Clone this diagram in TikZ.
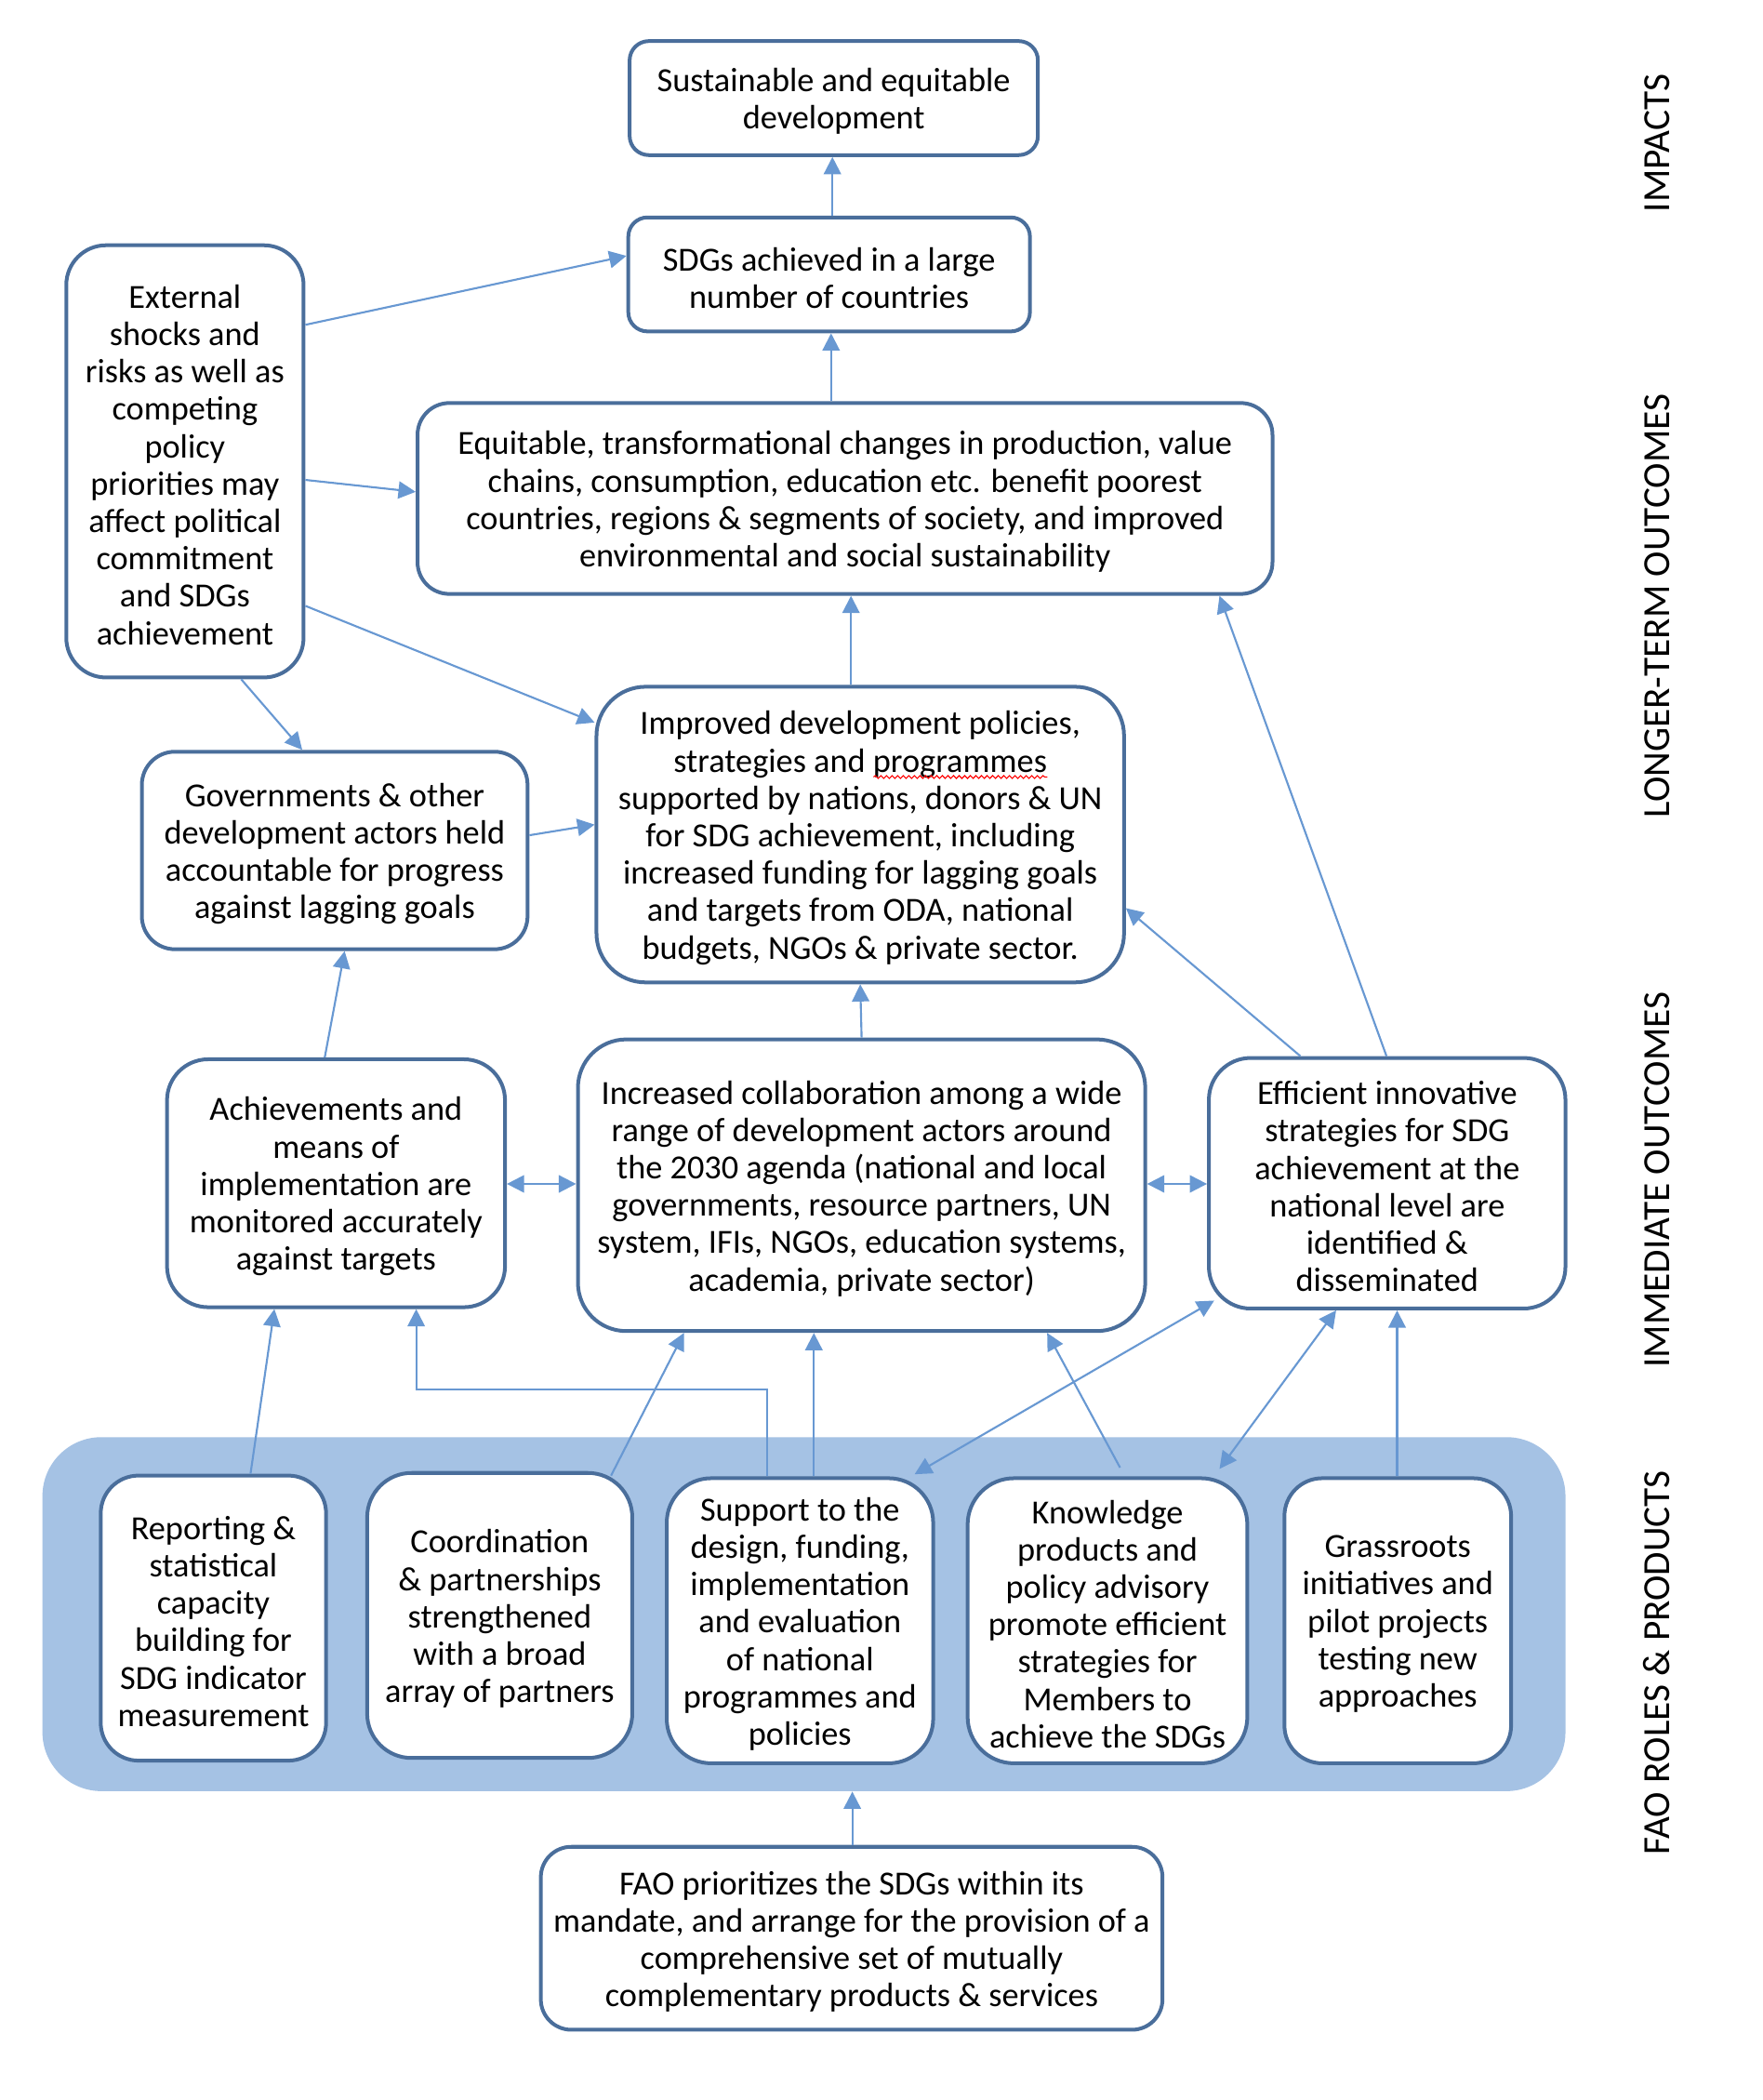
\documentclass[tikz,border=0pt]{standalone}
\usepackage{fontspec}
\setmainfont{Carlito}
\usetikzlibrary{arrows.meta,fit,decorations.pathmorphing}
\definecolor{bord}{RGB}{74,110,155}
\definecolor{conn}{RGB}{104,152,210}
\definecolor{bandc}{RGB}{165,194,228}
\newsavebox{\wavebox}
\newcommand\wavyword[1]{\sbox{\wavebox}{#1}\hbox to \wd\wavebox{\rlap{\usebox{\wavebox}}\raisebox{-3pt}[0pt][0pt]{\tikz[x=1pt,y=1pt,sharp corners]\draw[red,line width=0.45pt,sharp corners,decorate,decoration={snake,amplitude=0.6pt,segment length=2.4pt}] (0pt,0pt) -- (\wd\wavebox,0pt);}\hss}}
\begin{document}
\begin{tikzpicture}[x=0.02cm,y=-0.02cm,
  box/.style={draw=bord, line width=1.6pt, fill=white, inner sep=0pt},
  txt/.style={align=center, inner sep=0pt, yshift=-0.05cm, sharp corners,
     font=\fontsize{14.5}{16.05}\selectfont},
  arr/.style={draw=conn, line width=0.85pt, -{Triangle[length=0.26cm,width=0.26cm]}},
  darr/.style={draw=conn, line width=0.85pt, {Triangle[length=0.26cm,width=0.26cm]}-{Triangle[length=0.26cm,width=0.26cm]}},
  side/.style={rotate=90, font=\fontsize{16.5}{18}\selectfont, inner sep=0pt}]
\path[use as bounding box] (0,0) rectangle (1330,1584);

% band
\node[fill=bandc, rounded corners=0.89cm, inner sep=0pt, fit={(32,1084)(1181,1351)}] (band) {};

% boxes
\node[box, rounded corners=0.29cm, fit={(475,31)(783,117)},
  label={[txt]center:{Sustainable and equitable\\development}}] (n1) {};
\node[box, rounded corners=0.29cm, fit={(474,164)(777,250)},
  label={[txt]center:{SDGs achieved in a large\\number of countries}}] (n2) {};
\node[box, rounded corners=0.6cm, fit={(50,185)(229,511)},
  label={[txt]center:{External\\shocks and\\risks as well as\\competing\\policy\\priorities may\\affect political\\commitment\\and SDGs\\achievement}}] (n3) {};
\node[box, rounded corners=0.48cm, fit={(315,304)(960,448)},
  label={[txt]center:{Equitable, transformational changes in production, value\\chains, consumption, education etc. benefit poorest\\countries, regions \& segments of society, and improved\\environmental and social sustainability}}] (n4) {};
\node[box, rounded corners=0.5cm, fit={(107,567)(398,716)},
  label={[txt]center:{Governments \& other\\development actors held\\accountable for progress\\against lagging goals}}] (n5) {};
\node[box, rounded corners=0.74cm, fit={(450,518)(848,741)},
  label={[txt]center:{Improved development policies,\\strategies and \wavyword{programmes}\\supported by nations, donors \& UN\\for SDG achievement, including\\increased funding for lagging goals\\and targets from ODA, national\\budgets, NGOs \& private sector.}}] (n6) {};
\node[box, rounded corners=0.62cm, fit={(126,799)(381,986)},
  label={[txt]center:{Achievements and\\means of\\implementation are\\monitored accurately\\against targets}}] (n7) {};
\node[box, rounded corners=0.73cm, fit={(436,784)(864,1004)},
  label={[txt]center:{Increased collaboration among a wide\\range of development actors around\\the 2030 agenda (national and local\\governments, resource partners, UN\\system, IFIs, NGOs, education systems,\\academia, private sector)}}] (n8) {};
\node[box, rounded corners=0.63cm, fit={(912,798)(1181,987)},
  label={[txt]center:{Efficient innovative\\strategies for SDG\\achievement at the\\national level are\\identified \&\\disseminated}}] (n9) {};
\node[box, rounded corners=0.57cm, fit={(76,1113)(246,1328)},
  label={[txt]center:{Reporting \&\\statistical\\capacity\\building for\\SDG indicator\\measurement}}] (n11) {};
\node[box, rounded corners=0.67cm, fit={(277,1111)(477,1326)},
  label={[txt]center:{Coordination\\\& partnerships\\strengthened\\with a broad\\array of partners}}] (n12) {};
\node[box, rounded corners=0.67cm, fit={(503,1115)(704,1330)},
  label={[txt]center:{Support to the\\design, funding,\\implementation\\and evaluation\\of national\\programmes and\\policies}}] (n13) {};
\node[box, rounded corners=0.7cm, fit={(730,1115)(941,1330)},
  label={[txt]center:{Knowledge\\products and\\policy advisory\\promote efficient\\strategies for\\Members to\\achieve the SDGs}}] (n14) {};
\node[box, rounded corners=0.57cm, fit={(969,1115)(1140,1330)},
  label={[txt]center:{Grassroots\\initiatives and\\pilot projects\\testing new\\approaches}}] (n15) {};
\node[box, rounded corners=0.46cm, fit={(408,1393)(877,1531)},
  label={[txt]center:{FAO prioritizes the SDGs within its\\mandate, and arrange for the provision of a\\comprehensive set of mutually\\complementary products \& services}}] (n16) {};

% side labels
\node[side] (l1) at (1250,108) {IMPACTS};
\node[side] (l2) at (1250,457) {LONGER-TERM OUTCOMES};
\node[side] (l3) at (1250,890) {IMMEDIATE OUTCOMES};
\node[side] (l4) at (1250,1254) {FAO ROLES \& PRODUCTS};

% connectors
\draw[arr] (n2.north -| 628,0) -- (n1.south -| 628,0);
\draw[arr] (n4.north -| 627,0) -- (n2.south -| 627,0);
\draw[arr] (n3.east |- 0,245) -- (n2.west |- 0,193);
\draw[arr] (n3.east |- 0,362) -- (n4.west |- 0,371);
\draw[arr] (n3.east |- 0,457) -- (n6.west |- 0,545);
\draw[arr] (n3.south -| 182,0) -- (n5.north -| 228,0);
\draw[arr] (n5.east |- 0,630) -- (n6.west |- 0,622);
\draw[arr] (n6.north -| 642,0) -- (n4.south -| 642,0);
\draw[arr] (n7.north -| 245,0) -- (n5.south -| 260,0);
\draw[arr] (n8.north -| 650,0) -- (n6.south -| 649,0);
\draw[arr] (n9.north -| 981,0) -- (n6.east |- 0,685);
\draw[arr] (n9.north -| 1046,0) -- (n4.south -| 920,0);
\draw[darr] (n7.east |- 0,893) -- (n8.west |- 0,893);
\draw[darr] (n8.east |- 0,893) -- (n9.west |- 0,893);
\draw[arr] (n11.north -| 189,0) -- (n7.south -| 207,0);
\coordinate (e1) at (579,1048);
\coordinate (e2) at (314,1048);
\draw[arr] (n13.north -| 579,0) -- (e1) -- (e2) -- (n7.south -| 314,0);
\coordinate (c1) at (461,1113);
\draw[arr] (c1) -- (n8.south -| 516,0);
\draw[arr] (n13.north -| 614,0) -- (n8.south -| 614,0);
\coordinate (k1) at (845,1107);
\draw[arr] (k1) -- (n8.south -| 790,0);
\coordinate (s1) at (690,1112);
\coordinate (f1) at (916,981);
\draw[darr] (s1) -- (f1);
\coordinate (k2) at (920,1108);
\draw[darr] (k2) -- (n9.south -| 1008,0);
\draw[arr] (n15.north -| 1054,0) -- (n9.south -| 1054,0);
\draw[arr] (n16.north -| 643,0) -- (band.south -| 643,0);
\end{tikzpicture}
\end{document}
